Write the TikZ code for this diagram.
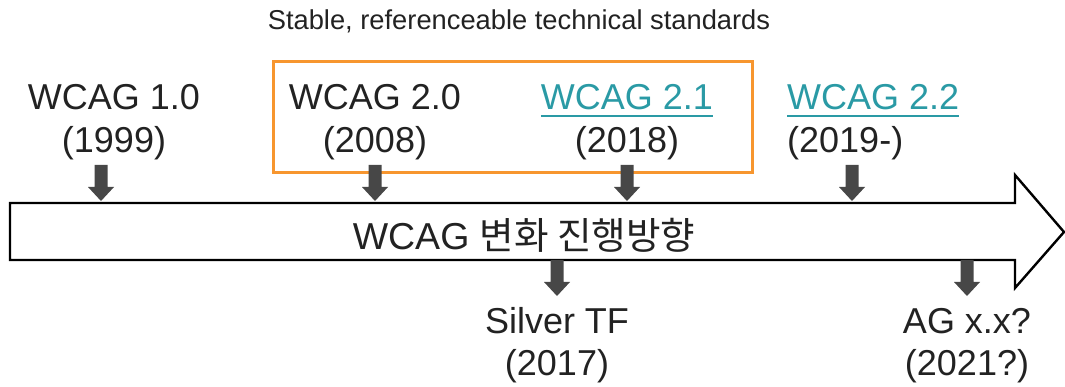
\documentclass[tikz,border=0pt]{standalone}
\usepackage{fontspec}
\setmainfont{Liberation Sans}
\newfontfamily\krfont{Noto Sans CJK KR}
\definecolor{txt}{HTML}{222222}
\definecolor{tealc}{HTML}{2A9AA5}
\definecolor{orangec}{HTML}{F7962F}
\definecolor{arrowc}{HTML}{474747}
\newcommand\dnarrow[2]{%
  \fill[arrowc] (#1-6.5,#2) -- (#1+6.5,#2) -- (#1+6.5,#2+22) -- (#1+13,#2+22)
    -- (#1,#2+36) -- (#1-13,#2+22) -- (#1-6.5,#2+22) -- cycle;}
\begin{document}
\begin{tikzpicture}[x=1pt,y=-1pt,
  big/.style={font=\fontsize{36}{43}\selectfont, text=txt, inner sep=0pt, anchor=base},
  small/.style={font=\fontsize{27.3}{32}\selectfont, text=txt, inner sep=0pt, anchor=base},
  link/.style={big, text=tealc},
  uline/.style={draw=tealc, line width=2.6pt}]
\useasboundingbox (0,0) rectangle (1065,387);
% title
\node[small] (title) at (519,30) {Stable, referenceable technical standards};
% orange box
\draw[orangec, line width=3pt] (273,62) rectangle (752,173);
% big arrow
\draw[black, line width=2.4pt, fill=white, line join=miter]
  (10,203) -- (1015,203) -- (1015,175) -- (1064,232) -- (1015,288) -- (1015,260) -- (10,260) -- cycle;
\node[big, font=\fontsize{37.5}{43}\selectfont] (dir) at (524,250) {WCAG {\krfont 변화 진행방향}};
% labels above
\node[big] (w10) at (114,110) {WCAG 1.0};
\node[big] (w10y) at (114,153) {(1999)};
\node[big] (w20) at (375,110) {WCAG 2.0};
\node[big] (w20y) at (375,153) {(2008)};
\node[link] (w21) at (627,110) {WCAG 2.1};
\node[big] (w21y) at (627,153) {(2018)};
\node[link, anchor=base west] (w22) at (787,110) {WCAG 2.2};
\node[big, anchor=base west] (w22y) at (787,153) {(2019-)};
\draw[uline] ([yshift=-6pt]w21.base west) -- ([yshift=-6pt]w21.base east);
\draw[uline] ([yshift=-6pt]w22.base west) -- ([yshift=-6pt]w22.base east);
% labels below
\node[big] (sil) at (557,333) {Silver TF};
\node[big] (sily) at (557,375) {(2017)};
\node[big] (ag) at (967,333) {AG x.x?};
\node[big] (agy) at (967,375) {(2021?)};
% small arrows
\dnarrow{101}{165}
\dnarrow{375}{165}
\dnarrow{627}{165}
\dnarrow{852}{165}
\dnarrow{557}{260}
\dnarrow{967}{260}
\end{tikzpicture}
\end{document}
